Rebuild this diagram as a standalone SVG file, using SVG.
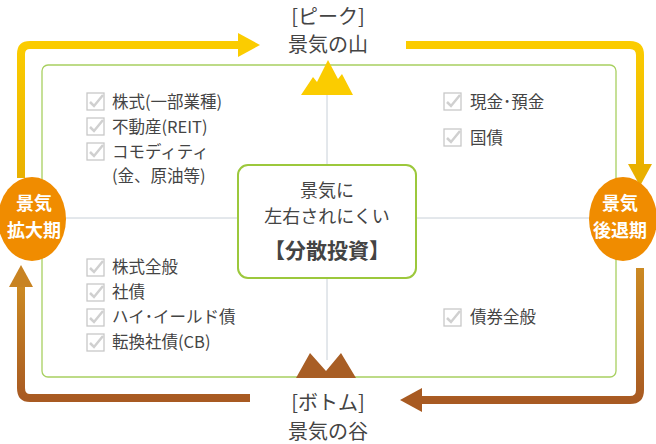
<svg xmlns="http://www.w3.org/2000/svg" width="656" height="444" viewBox="0 0 656 444">
<defs>
<style>
text{font-family:"Noto Sans CJK JP","Noto Sans",sans-serif;fill:#444}
.it{font-size:16.5px}
.big{font-size:20px;text-anchor:middle}
.cb{fill:#fff;stroke:#c8c8c8;stroke-width:1.3}
.ck{fill:none;stroke:#d0d0d0;stroke-width:2.5}
.ct{font-size:18px;font-weight:bold;fill:#fff;text-anchor:middle}
</style>
<linearGradient id="gy" x1="0" y1="0" x2="0" y2="1"><stop offset="0" stop-color="#fbcc00"/><stop offset="1" stop-color="#e9b000"/></linearGradient>
<linearGradient id="gb" x1="0" y1="0" x2="0" y2="1"><stop offset="0" stop-color="#cc8a22"/><stop offset="1" stop-color="#a85a22"/></linearGradient>
<g id="chk"><rect class="cb" x="0" y="0" width="17" height="17"/><path class="ck" d="M3 9 L7 13 L16 2"/></g>
</defs>
<g id="connectors">
<path d="M21 178 V54 Q21 45 30 45 H240" fill="none" stroke="url(#gy)" stroke-width="8"/>
<polygon points="238,33 260,45 238,57" fill="#fbcc00"/>
<path d="M406 45 H630 Q640 45 640 55 V166" fill="none" stroke="url(#gy)" stroke-width="8"/>
<polygon points="628,164 640,186 652,164" fill="#e9b000"/>
<path d="M640 268 V390 Q640 400 630 400 H420" fill="none" stroke="url(#gb)" stroke-width="8"/>
<polygon points="422,388 400,400 422,412" fill="#a85a22"/>
<path d="M250 398 H30 Q21 398 21 388 V285" fill="none" stroke="url(#gb)" stroke-width="8"/>
<polygon points="9,287 21,265 33,287" fill="#c88322"/>
</g>
<g id="frame">
<rect x="42" y="65" width="574" height="312" rx="6" fill="#fff" stroke="#a8d060" stroke-width="1.3"/>
<line x1="327" y1="90" x2="327" y2="360" stroke="#c8d0d8" stroke-width="1"/>
<line x1="42" y1="218" x2="616" y2="218" stroke="#c8d0d8" stroke-width="1"/>
</g>
<g id="peak">
<polygon points="301,95 313,77 317,82 328,60 338,79 342,74 353,95" fill="#fbcc00"/>
<text class="big" x="328" y="24">[ピーク]</text>
<text class="big" x="328" y="52">景気の山</text>
</g>
<g id="bottom">
<polygon points="296,378 310,353 326,371 341,353 356,378" fill="#a85e25"/>
<text class="big" x="328" y="410">[ボトム]</text>
<text class="big" x="328" y="439">景気の谷</text>
</g>
<g id="center">
<rect x="238" y="165" width="178" height="113" rx="10" fill="#fff" stroke="#9cc83c" stroke-width="2"/>
<text x="327" y="197" font-size="18" text-anchor="middle">景気に</text>
<text x="327" y="223" font-size="18" text-anchor="middle">左右されにくい</text>
<text x="327" y="258" font-size="21" font-weight="bold" text-anchor="middle">【分散投資】</text>
</g>
<g id="expand">
<ellipse cx="32" cy="219" rx="34" ry="42" fill="#f08c00"/>
<text class="ct" x="34" y="210">景気</text>
<text class="ct" x="34" y="237">拡大期</text>
</g>
<g id="recess">
<ellipse cx="623" cy="219" rx="34" ry="42" fill="#f08c00"/>
<text class="ct" x="620" y="210">景気</text>
<text class="ct" x="620" y="237">後退期</text>
</g>
<g id="q1">
<use href="#chk" x="87" y="93"/><text class="it" x="112" y="108">株式(一部業種)</text>
<use href="#chk" x="87" y="118"/><text class="it" x="112" y="133">不動産(REIT)</text>
<use href="#chk" x="87" y="143"/><text class="it" x="112" y="158">コモディティ</text>
<text class="it" x="112" y="182">(金、原油等)</text>
</g>
<g id="q2">
<use href="#chk" x="444" y="93"/><text class="it" x="470" y="108">現金･預金</text>
<use href="#chk" x="444" y="129"/><text class="it" x="470" y="144">国債</text>
</g>
<g id="q3">
<use href="#chk" x="87" y="259"/><text class="it" x="112" y="273">株式全般</text>
<use href="#chk" x="87" y="284"/><text class="it" x="112" y="298">社債</text>
<use href="#chk" x="87" y="309"/><text class="it" x="112" y="323">ハイ･イールド債</text>
<use href="#chk" x="87" y="334"/><text class="it" x="112" y="348">転換社債(CB)</text>
</g>
<g id="q4">
<use href="#chk" x="444" y="309"/><text class="it" x="470" y="323">債券全般</text>
</g>
</svg>
